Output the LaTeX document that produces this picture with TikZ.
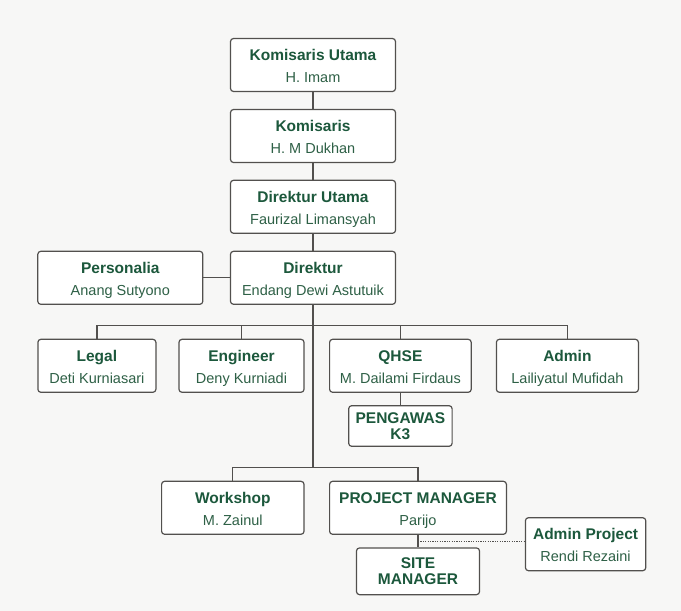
\documentclass[tikz,border=0pt]{standalone}
\usepackage{fontspec}
\setmainfont{Liberation Sans}
\usepackage{tikz}
\usepackage{xcolor}
\usetikzlibrary{positioning, calc}

\definecolor{titlegreen}{RGB}{28,88,60}
\definecolor{namegreen}{RGB}{46,96,70}
\definecolor{boxline}{RGB}{82,80,78}
\definecolor{paper}{RGB}{247,247,246}

% title line and name line, with fixed struts so every box sits the same
\newcommand{\post}[2]{{\bfseries\color{titlegreen}\fontsize{15.5}{22}\selectfont\rule{0pt}{16.3pt}#1}\\{\color{namegreen}\fontsize{14.5}{22}\selectfont\rule[-3.7pt]{0pt}{3.7pt}#2}}

\begin{document}
\begin{tikzpicture}[
    x=1pt, y=-1pt,              % pixel grid of the reference, y downwards
    line width=1.2pt,
    unit/.style={draw=boxline, fill=white, rounded corners=3pt, align=center,
                 inner sep=0pt, minimum height=53pt, font=\fontsize{14.5}{22}\selectfont},
    capsunit/.style={unit, text=titlegreen, font=\bfseries\fontsize{15.5}{15.6}\selectfont},
    link/.style={draw=boxline, line width=1.2pt},
    dotlink/.style={link, dash pattern=on 1.2pt off 1.2pt, line width=1pt},
]

% -------------------------------------------------
% Background
% -------------------------------------------------
\fill[paper] (0,0) rectangle (681,611);
\useasboundingbox (0,0) rectangle (681,611);

% -------------------------------------------------
% Board and directors
% -------------------------------------------------
\node[unit, minimum width=165pt] (kutama) at (313,65)    {\post{Komisaris Utama}{H. Imam}};
\node[unit, minimum width=165pt] (kom)    at (313,136)   {\post{Komisaris}{H. M Dukhan}};
\node[unit, minimum width=165pt] (dirut)  at (313,206.8) {\post{Direktur Utama}{Faurizal Limansyah}};
\node[unit, minimum width=165pt] (dir)    at (313,277.8) {\post{Direktur}{Endang Dewi Astutuik}};
\node[unit, minimum width=165pt] (pers)   at (120.3,277.8) {\post{Personalia}{Anang Sutyono}};

% -------------------------------------------------
% Departments
% -------------------------------------------------
\node[unit, minimum width=118pt]   (legal) at (96.9,365.8)  {\post{Legal}{Deti Kurniasari}};
\node[unit, minimum width=125pt]   (eng)   at (241.5,365.8) {\post{Engineer}{Deny Kurniadi}};
\node[unit, minimum width=141.6pt] (qhse)  at (400.4,365.8) {\post{QHSE}{M. Dailami Firdaus}};
\node[unit, minimum width=142pt]   (admin) at (567.4,365.8) {\post{Admin}{Lailiyatul Mufidah}};

\node[capsunit, minimum width=103.4pt, minimum height=40.6pt] (k3) at (400.4,426) {PENGAWAS\\K3};

% -------------------------------------------------
% Project side
% -------------------------------------------------
\node[unit, minimum width=142.4pt] (work)   at (232.8,507.8) {\post{Workshop}{M. Zainul}};
\node[unit, minimum width=176.8pt] (pm)     at (418,507.8)   {\post{PROJECT MANAGER}{Parijo}};
\node[capsunit, minimum width=123pt, minimum height=46.7pt] (site) at (418,571.3) {SITE\\MANAGER};
\node[unit, minimum width=120.3pt] (adminp) at (585.6,544.2) {\post{Admin Project}{Rendi Rezaini}};

% -------------------------------------------------
% Connectors
% -------------------------------------------------
\coordinate (busTop) at (313,325.7);
\coordinate (busLow) at (313,467.3);
\coordinate (dotStart) at (418,541);

\draw[link] (kutama) -- (kom);
\draw[link] (kom) -- (dirut);
\draw[link] (dirut) -- (dir);
\draw[link] (pers) -- (dir);
\draw[link] (dir.south) -- (busLow);

\draw[link] (legal.north) |- (busTop) -| (admin.north);
\draw[link] (eng.north) -- (eng.north |- busTop);
\draw[link] (qhse.north) -- (qhse.north |- busTop);
\draw[link] (qhse) -- (k3);

\draw[link] (work.north) |- (busLow) -| (pm.north);
\draw[link] (pm) -- (site);
\draw[dotlink] (dotStart) -- (dotStart -| adminp.west);

\end{tikzpicture}
\end{document}
